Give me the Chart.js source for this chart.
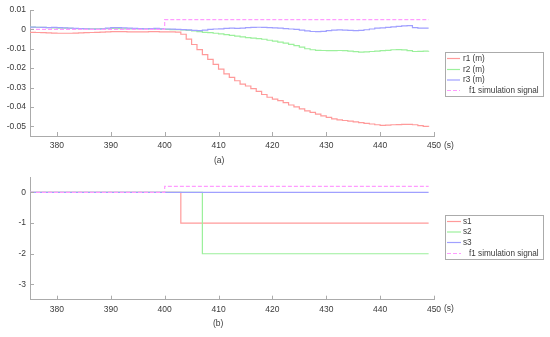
<!DOCTYPE html>
<html>
<head>
<meta charset="utf-8">
<script src="https://cdn.jsdelivr.net/npm/chart.js@4.4.0/dist/chart.umd.min.js"></script>
<style>
  html, body { margin: 0; padding: 0; background: #fff; }
  #wrap { position: relative; width: 550px; height: 337px; }
  #chartA { position: absolute; left: 0; top: 0; }
  #chartB { position: absolute; left: 0; top: 168px; }
</style>
</head>
<body>
<div id="wrap">
  <canvas id="chartA" width="550" height="168"></canvas>
  <canvas id="chartB" width="550" height="169"></canvas>
</div>
<script>
// (a) displacement responses, sampled every second
const time = [375, 376, 377, 378, 379, 380, 381, 382, 383, 384, 385, 386, 387, 388, 389,
  390, 391, 392, 393, 394, 395, 396, 397, 398, 399, 400, 401, 402, 403, 404,
  405, 406, 407, 408, 409, 410, 411, 412, 413, 414, 415, 416, 417, 418, 419,
  420, 421, 422, 423, 424, 425, 426, 427, 428, 429, 430, 431, 432, 433, 434,
  435, 436, 437, 438, 439, 440, 441, 442, 443, 444, 445, 446, 447, 448, 449];
const r1 = [-0.0015, -0.0016, -0.0017, -0.0018, -0.0019, -0.0020, -0.0020, -0.0020, -0.0019, -0.0018,
  -0.0017, -0.0016, -0.0015, -0.0014, -0.0013, -0.0012, -0.0012, -0.0012, -0.0013, -0.0013,
  -0.0013, -0.0013, -0.0012, -0.0012, -0.0013, -0.0013, -0.0013, -0.0014, -0.0025, -0.0050,
  -0.0078, -0.0104, -0.0130, -0.0155, -0.0180, -0.0205, -0.0230, -0.0248, -0.0265, -0.0282,
  -0.0292, -0.0306, -0.0320, -0.0336, -0.0350, -0.0360, -0.0368, -0.0378, -0.0390, -0.0400,
  -0.0410, -0.0420, -0.0428, -0.0437, -0.0446, -0.0454, -0.0462, -0.0467, -0.0470, -0.0473,
  -0.0477, -0.0481, -0.0485, -0.0488, -0.0492, -0.0495, -0.0494, -0.0492, -0.0491, -0.0490,
  -0.0490, -0.0492, -0.0496, -0.0500, -0.0502];
const r2 = [0.0012, 0.0011, 0.0010, 0.0009, 0.0008, 0.0007, 0.0006, 0.0005, 0.0004, 0.0004,
  0.0003, 0.0003, 0.0003, 0.0004, 0.0004, 0.0005, 0.0004, 0.0003, 0.0003, 0.0002,
  0.0002, 0.0002, 0.0002, 0.0001, 0.0001, 0.0000, -0.0001, -0.0002, -0.0003, -0.0005,
  -0.0008, -0.0012, -0.0015, -0.0017, -0.0020, -0.0023, -0.0027, -0.0031, -0.0035, -0.0039,
  -0.0042, -0.0045, -0.0048, -0.0051, -0.0056, -0.0061, -0.0066, -0.0071, -0.0077, -0.0084,
  -0.0092, -0.0100, -0.0105, -0.0108, -0.0109, -0.0110, -0.0110, -0.0109, -0.0110, -0.0112,
  -0.0115, -0.0117, -0.0116, -0.0114, -0.0112, -0.0110, -0.0108, -0.0105, -0.0104, -0.0106,
  -0.0110, -0.0114, -0.0113, -0.0112, -0.0111];
const r3 = [0.0012, 0.0011, 0.0010, 0.0009, 0.0010, 0.0009, 0.0008, 0.0006, 0.0005, 0.0004,
  0.0003, 0.0002, 0.0001, 0.0003, 0.0006, 0.0009, 0.0009, 0.0008, 0.0006, 0.0005,
  0.0004, 0.0003, 0.0004, 0.0005, 0.0003, 0.0002, 0.0001, 0.0000, -0.0001, -0.0003,
  -0.0005, -0.0006, -0.0004, 0.0000, 0.0002, 0.0003, 0.0005, 0.0006, 0.0005, 0.0007,
  0.0009, 0.0010, 0.0011, 0.0010, 0.0009, 0.0008, 0.0006, 0.0004, 0.0002, 0.0000,
  -0.0004, -0.0008, -0.0011, -0.0012, -0.0010, -0.0006, -0.0004, -0.0003, -0.0004, -0.0005,
  -0.0006, -0.0005, -0.0002, 0.0002, 0.0006, 0.0008, 0.0010, 0.0013, 0.0016, 0.0018,
  0.0019, 0.0009, 0.0006, 0.0007, 0.0007];
const f1Time = [375, 400, 449];
const f1a = [0, 0.005, 0.005];

// (b) switching signals, given at their change points
const sTime = [375, 400, 403, 407, 449];
const s1 = [0, 0, -1, -1, -1];
const s2 = [0, 0, 0, -2, -2];
const s3 = [0, 0, 0, 0, 0];
const f1b = [0, 0.2, 0.2, 0.2, 0.2];

const xTicks = [380, 390, 400, 410, 420, 430, 440, 450];
const yTicksA = [0.01, 0, -0.01, -0.02, -0.03, -0.04, -0.05];
const yTicksB = [0, -1, -2, -3];

const labelsA = ['r1 (m)', 'r2 (m)', 'r3 (m)', 'f1 simulation signal'];
const labelsB = ['s1', 's2', 's3', 'f1 simulation signal'];
const colors = ['#ff9a9a', '#9cf09c', '#a0a0ff', '#ff9cff'];

const axisGray = '#ababab';
const textGray = '#3a3a3a';
const fontFam = "'Liberation Sans', Arial, sans-serif";

const pts = (xs, ys) => xs.map((x, i) => ({ x: x, y: ys[i] }));

// MATLAB-like inward ticks, boxed legend and captions
const decor = {
  id: 'decor',
  afterDraw(chart, args, opts) {
    const ctx = chart.ctx;
    const area = chart.chartArea;
    const xs = chart.scales.x, ys = chart.scales.y;
    ctx.save();
    ctx.lineWidth = 1;
    ctx.strokeStyle = axisGray;
    ctx.beginPath();
    xs.ticks.forEach(t => {
      const px = Math.round(xs.getPixelForValue(t.value)) + 0.5;
      ctx.moveTo(px, area.bottom);
      ctx.lineTo(px, area.bottom - 4);
    });
    ys.ticks.forEach(t => {
      const py = Math.round(ys.getPixelForValue(t.value)) + 0.5;
      ctx.moveTo(area.left, py);
      ctx.lineTo(area.left + 4, py);
    });
    ctx.stroke();

    const lg = opts.legend;
    ctx.fillStyle = '#fff';
    ctx.fillRect(lg.left, lg.top, lg.width, lg.height);
    ctx.strokeStyle = axisGray;
    ctx.strokeRect(lg.left + 0.5, lg.top + 0.5, lg.width, lg.height);
    ctx.font = '8.2px ' + fontFam;
    ctx.textBaseline = 'middle';
    ctx.textAlign = 'left';
    chart.data.datasets.forEach((ds, i) => {
      const y = lg.rows[i];
      ctx.strokeStyle = ds.borderColor;
      ctx.lineWidth = 1.2;
      ctx.setLineDash(ds.borderDash || []);
      ctx.beginPath();
      ctx.moveTo(lg.left + 2, y);
      ctx.lineTo(lg.left + lg.sample, y);
      ctx.stroke();
      ctx.setLineDash([]);
      ctx.fillStyle = textGray;
      ctx.fillText(ds.label, lg.textX[i], y);
    });

    ctx.font = '8.5px ' + fontFam;
    ctx.fillStyle = textGray;
    opts.texts.forEach(t => ctx.fillText(t.text, t.x, t.y));
    ctx.restore();
  }
};

function makeOptions(cfg) {
  const tickFont = { family: fontFam, size: 8.5 };
  return {
    responsive: false,
    animation: false,
    layout: { padding: { top: cfg.padTop, right: 116, left: 0, bottom: 0 } },
    elements: { point: { radius: 0 }, line: { borderWidth: 1.2, tension: 0 } },
    plugins: {
      legend: { display: false },
      tooltip: { enabled: false },
      decor: cfg.decor
    },
    scales: {
      x: {
        type: 'linear', min: 375, max: 450,
        afterBuildTicks: s => { s.ticks = xTicks.map(v => ({ value: v })); },
        afterFit: s => { s.height = cfg.xHeight; },
        grid: { drawOnChartArea: false, drawTicks: false },
        border: { color: axisGray },
        ticks: { font: tickFont, color: textGray, padding: 5, maxRotation: 0, callback: v => String(v) }
      },
      y: {
        type: 'linear', min: cfg.yMin, max: cfg.yMax,
        afterBuildTicks: s => { s.ticks = cfg.yTicks.map(v => ({ value: v })); },
        afterFit: s => { s.width = 30; },
        grid: { drawOnChartArea: false, drawTicks: false },
        border: { color: axisGray },
        ticks: { font: tickFont, color: textGray, padding: 4, callback: v => String(v) }
      }
    }
  };
}

// later series drawn on top, like MATLAB
function series(idx, label, xs, ys, color, dashed) {
  return {
    label: label,
    data: pts(xs, ys),
    borderColor: color,
    borderDash: dashed ? [4, 2] : [],
    stepped: true,
    fill: false,
    order: 3 - idx
  };
}

new Chart(document.getElementById('chartA'), {
  type: 'line',
  data: {
    datasets: [
      series(0, labelsA[0], time, r1, colors[0]),
      series(1, labelsA[1], time, r2, colors[1]),
      series(2, labelsA[2], time, r3, colors[2]),
      series(3, labelsA[3], f1Time, f1a, colors[3], true)
    ]
  },
  options: makeOptions({
    padTop: 10, xHeight: 32, yMin: -0.055, yMax: 0.01, yTicks: yTicksA,
    decor: {
      legend: { left: 445, top: 52, width: 98, height: 44, sample: 15,
                rows: [58.5, 69.5, 80, 90.5], textX: [463, 463, 463, 469] },
      texts: [{ text: '(a)', x: 214, y: 161 }, { text: '(s)', x: 444, y: 146 }]
    }
  }),
  plugins: [decor]
});

new Chart(document.getElementById('chartB'), {
  type: 'line',
  data: {
    datasets: [
      series(0, labelsB[0], sTime, s1, colors[0]),
      series(1, labelsB[1], sTime, s2, colors[1]),
      series(2, labelsB[2], sTime, s3, colors[2]),
      series(3, labelsB[3], sTime, f1b, colors[3], true)
    ]
  },
  options: makeOptions({
    padTop: 6.4, xHeight: 37.3, yMin: -3.5, yMax: 0.5, yTicks: yTicksB,
    decor: {
      legend: { left: 445, top: 47, width: 98, height: 44, sample: 16,
                rows: [53.5, 64, 74.5, 85.5], textX: [463, 463, 463, 469] },
      texts: [{ text: '(b)', x: 213, y: 156 }, { text: '(s)', x: 444, y: 141 }]
    }
  }),
  plugins: [decor]
});
</script>
</body>
</html>
